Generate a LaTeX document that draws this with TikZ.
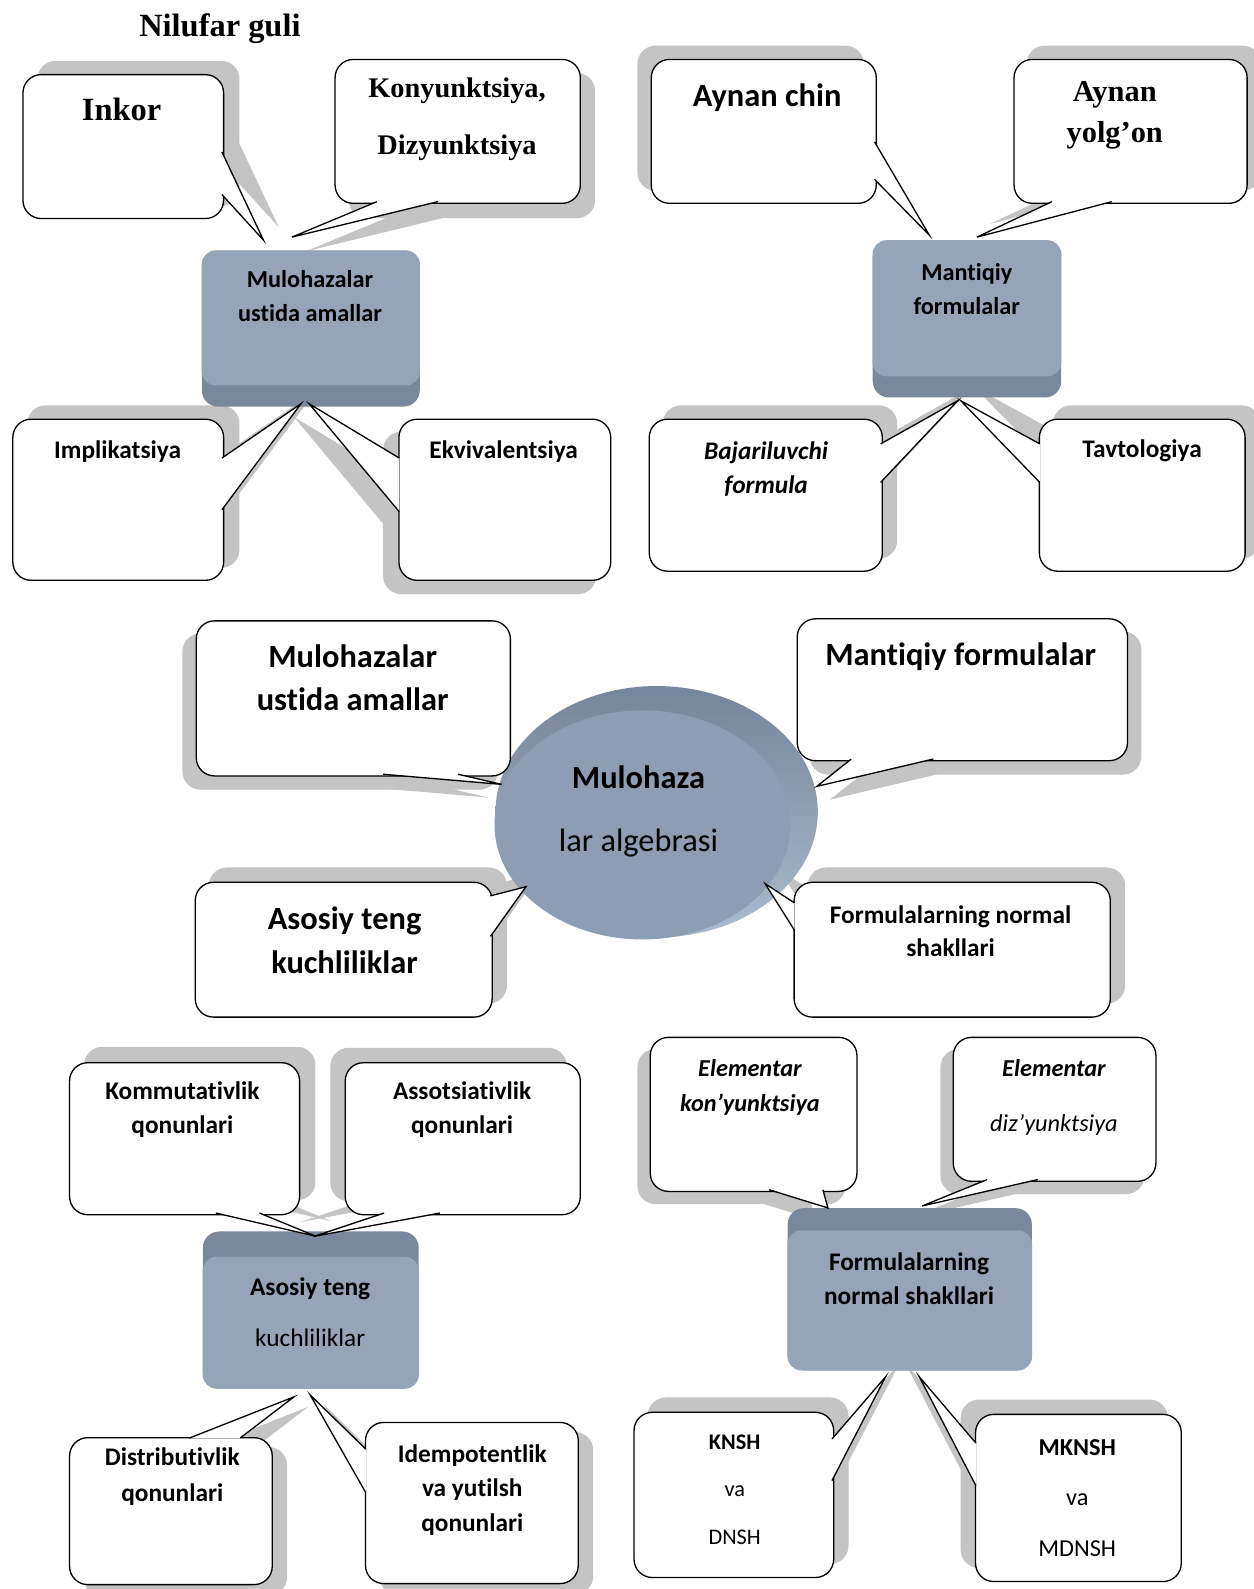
\documentclass[tikz,border=0pt]{standalone}
\usepackage{fontspec}
\setmainfont{Carlito}[RawFeature={-liga;-clig;-calt;-dlig;-hlig}]
\newfontfamily\tnr{Liberation Serif}
\usetikzlibrary{shapes.geometric}
\pgfdeclarelayer{background}
\pgfsetlayers{background,main}

\definecolor{shadowgray}{RGB}{196,196,196}
\definecolor{keyface}{RGB}{150,164,185}
\definecolor{keydark}{RGB}{122,136,157}
\definecolor{rimdark}{RGB}{118,133,155}
\definecolor{rimlight}{RGB}{172,186,205}
\definecolor{ovalface}{RGB}{140,157,180}

\newcommand{\fs}[2]{\fontsize{#1}{#2}\selectfont}
% gray shadow of a bubble, shifted by #2
\newcommand{\bubshadow}[2]{%
  \begin{pgfonlayer}{background}
    \fill[shadowgray,rounded corners=18pt] ([shift={#2}]#1.north west) rectangle ([shift={#2}]#1.south east);
  \end{pgfonlayer}}
% pointer of a bubble: base #1,#2, tip #3, shadow shift #4
\newcommand{\bubtail}[4]{%
  \begin{pgfonlayer}{background}
    \fill[shadowgray] ([shift={#4}]#1) -- ([shift={#4}]#3) -- ([shift={#4}]#2) -- cycle;
  \end{pgfonlayer}
  \fill[white] (#1) -- (#3) -- (#2) -- cycle;
  \draw[tailline] (#1) -- (#3) -- (#2);}

\begin{document}
\begin{tikzpicture}[x=1pt,y=-1pt,
  bubble/.style={draw=black,line width=1.3pt,fill=white,rounded corners=18pt,anchor=north west,inner sep=0pt},
  keybox/.style={fill=keydark,rounded corners=16pt,anchor=north west,inner sep=0pt},
  tailline/.style={line width=1.3pt,line join=miter},
  txt/.style={align=center,inner sep=0pt}]
\begin{pgfonlayer}{background}
\fill[white] (0,0) rectangle (1237,1568);
\end{pgfonlayer}
\useasboundingbox (0,0) rectangle (1237,1568);

% gray keys
\node[keybox,minimum width=215pt,minimum height=154pt] (mulop) at (199,247) {};
\fill[keyface,rounded corners=14pt] (mulop.north west) rectangle ([yshift=21pt]mulop.south east);
\node[keybox,minimum width=186pt,minimum height=155pt] (mantbox) at (861,237) {};
\fill[keyface,rounded corners=14pt] (mantbox.north west) rectangle ([yshift=21pt]mantbox.south east);
\node[keybox,minimum width=213pt,minimum height=155pt] (asbox) at (200,1215) {};
\fill[keyface,rounded corners=14pt] ([yshift=-25pt]asbox.north west) rectangle (asbox.south east);
\node[keybox,minimum width=241pt,minimum height=160pt] (formbox) at (777,1192) {};
\fill[keyface,rounded corners=14pt] ([yshift=-22pt]formbox.north west) rectangle (formbox.south east);

% central oval
\node[ellipse,minimum width=318pt,minimum height=248pt,inner sep=0pt,top color=rimdark,bottom color=rimlight] (alg) at (648,801) {};
\fill[ovalface] ([shift={(-14,13)}]alg.center) ellipse [x radius=146pt,y radius=113pt];

% bubbles
\node[bubble,minimum width=198pt,minimum height=142pt] (inkor) at (22,73) {};
\node[bubble,minimum width=242pt,minimum height=142pt] (konyu) at (330,58) {};
\node[bubble,minimum width=208pt,minimum height=159pt] (implik) at (12,413) {};
\node[bubble,minimum width=209pt,minimum height=159pt] (ekviv) at (393,413) {};
\node[bubble,minimum width=222pt,minimum height=142pt] (aynchin) at (642,58) {};
\node[bubble,minimum width=230pt,minimum height=142pt] (aynyol) at (1000,58) {};
\node[bubble,minimum width=230pt,minimum height=150pt] (bajar) at (640,413) {};
\node[bubble,minimum width=203pt,minimum height=150pt] (tavto) at (1025,413) {};
\node[bubble,minimum width=310pt,minimum height=153pt] (cmul) at (193,612) {};
\node[bubble,minimum width=326pt,minimum height=140pt] (cmant) at (786,610) {};
\node[bubble,minimum width=293pt,minimum height=133pt] (casos) at (192,870) {};
\node[bubble,minimum width=312pt,minimum height=133pt] (cform) at (783,870) {};
\node[bubble,minimum width=227pt,minimum height=150pt] (komm) at (68,1048) {};
\node[bubble,minimum width=232pt,minimum height=150pt] (assots) at (340,1048) {};
\node[bubble,minimum width=200pt,minimum height=145pt] (distr) at (68,1418) {};
\node[bubble,minimum width=210pt,minimum height=159pt] (idemp) at (360,1403) {};
\node[bubble,minimum width=204pt,minimum height=152pt] (elkon) at (641,1023) {};
\node[bubble,minimum width=200pt,minimum height=142pt] (eldiz) at (940,1023) {};
\node[bubble,minimum width=197pt,minimum height=163pt] (knsh) at (625,1393) {};
\node[bubble,minimum width=203pt,minimum height=165pt] (mknsh) at (962,1395) {};

\bubshadow{inkor}{(15,-13)}
\bubshadow{konyu}{(14,14)}
\bubshadow{implik}{(15,-13)}
\bubshadow{ekviv}{(-15,13)}
\bubshadow{aynchin}{(-13,-13)}
\bubshadow{aynyol}{(13,-13)}
\bubshadow{bajar}{(14,-13)}
\bubshadow{tavto}{(14,-13)}
\bubshadow{cmul}{(-13,13)}
\bubshadow{cmant}{(13,13)}
\bubshadow{casos}{(14,-14)}
\bubshadow{cform}{(14,-14)}
\bubshadow{komm}{(15,-15)}
\bubshadow{assots}{(-14,-14)}
\bubshadow{distr}{(14,10)}
\bubshadow{idemp}{(14,10)}
\bubshadow{elkon}{(-12,12)}
\bubshadow{eldiz}{(-12,12)}
\bubshadow{knsh}{(14,-14)}
\bubshadow{mknsh}{(-14,-14)}

% pointer bases and tips
\coordinate (inkor-a) at (219,150);
\coordinate (inkor-b) at (219,192);
\coordinate (inkor-p) at ([shift={(61,-10)}]mulop.north west);
\coordinate (konyu-a) at (372,199);
\coordinate (konyu-b) at (432,199);
\coordinate (konyu-p) at ([shift={(89,-13)}]mulop.north west);
\coordinate (implik-a) at (219,452);
\coordinate (implik-b) at (219,503);
\coordinate (implik-p) at ([shift={(98,-3)}]mulop.south west);
\coordinate (ekviv-a) at (394,452);
\coordinate (ekviv-b) at (394,505);
\coordinate (ekviv-p) at ([shift={(106,-3)}]mulop.south west);
\coordinate (aynchin-a) at (863,140);
\coordinate (aynchin-b) at (863,177);
\coordinate (aynchin-p) at ([shift={(56,-5)}]mantbox.north west);
\coordinate (aynyol-a) at (1038,199);
\coordinate (aynyol-b) at (1097,199);
\coordinate (aynyol-p) at ([shift={(103,-3)}]mantbox.north west);
\coordinate (bajar-a) at (869,438);
\coordinate (bajar-b) at (869,476);
\coordinate (bajar-p) at ([shift={(84,3)}]mantbox.south west);
\coordinate (tavto-a) at (1026,438);
\coordinate (tavto-b) at (1026,476);
\coordinate (tavto-p) at ([shift={(87,3)}]mantbox.south west);
\coordinate (cmul-a) at (378,764);
\coordinate (cmul-b) at (452,764);
\coordinate (cmul-p) at ([shift={(-153,-27)}]alg.center);
\coordinate (cmant-a) at (840,749);
\coordinate (cmant-b) at (921,749);
\coordinate (cmant-p) at ([shift={(158,-25)}]alg.center);
\coordinate (casos-a) at (484,884);
\coordinate (casos-b) at (484,924);
\coordinate (casos-p) at ([shift={(-129,74)}]alg.center);
\coordinate (cform-a) at (784,891);
\coordinate (cform-b) at (784,918);
\coordinate (cform-p) at ([shift={(107,71)}]alg.center);
\coordinate (komm-a) at (213,1197);
\coordinate (komm-b) at (256,1197);
\coordinate (komm-p) at ([shift={(112,5)}]asbox.north west);
\coordinate (assots-a) at (379,1197);
\coordinate (assots-b) at (434,1197);
\coordinate (assots-p) at ([shift={(110,5)}]asbox.north west);
\coordinate (distr-a) at (187,1419);
\coordinate (distr-b) at (237,1419);
\coordinate (distr-p) at ([shift={(90,8)}]asbox.south west);
\coordinate (idemp-a) at (361,1430);
\coordinate (idemp-b) at (361,1473);
\coordinate (idemp-p) at ([shift={(106,6)}]asbox.south west);
\coordinate (elkon-a) at (759,1174);
\coordinate (elkon-b) at (812,1174);
\coordinate (elkon-p) at ([shift={(40,0)}]formbox.north west);
\coordinate (eldiz-a) at (974,1164);
\coordinate (eldiz-b) at (1024,1164);
\coordinate (eldiz-p) at ([shift={(133,-2)}]formbox.north west);
\coordinate (knsh-a) at (821,1420);
\coordinate (knsh-b) at (821,1461);
\coordinate (knsh-p) at ([shift={(97,6)}]formbox.south west);
\coordinate (mknsh-a) at (963,1424);
\coordinate (mknsh-b) at (963,1466);
\coordinate (mknsh-p) at ([shift={(130,6)}]formbox.south west);

\bubtail{inkor-a}{inkor-b}{inkor-p}{(15,-13)}
\bubtail{konyu-a}{konyu-b}{konyu-p}{(14,14)}
\bubtail{implik-a}{implik-b}{implik-p}{(15,-13)}
\bubtail{ekviv-a}{ekviv-b}{ekviv-p}{(-15,13)}
\bubtail{aynchin-a}{aynchin-b}{aynchin-p}{(-13,-13)}
\bubtail{aynyol-a}{aynyol-b}{aynyol-p}{(13,-13)}
\bubtail{bajar-a}{bajar-b}{bajar-p}{(14,-13)}
\bubtail{tavto-a}{tavto-b}{tavto-p}{(14,-13)}
\bubtail{cmul-a}{cmul-b}{cmul-p}{(-13,13)}
\bubtail{cmant-a}{cmant-b}{cmant-p}{(13,13)}
\bubtail{casos-a}{casos-b}{casos-p}{(14,-14)}
\bubtail{cform-a}{cform-b}{cform-p}{(14,-14)}
\bubtail{komm-a}{komm-b}{komm-p}{(15,-15)}
\bubtail{assots-a}{assots-b}{assots-p}{(-14,-14)}
\bubtail{distr-a}{distr-b}{distr-p}{(14,10)}
\bubtail{idemp-a}{idemp-b}{idemp-p}{(14,10)}
\bubtail{elkon-a}{elkon-b}{elkon-p}{(-12,12)}
\bubtail{eldiz-a}{eldiz-b}{eldiz-p}{(-12,12)}
\bubtail{knsh-a}{knsh-b}{knsh-p}{(14,-14)}
\bubtail{mknsh-a}{mknsh-b}{mknsh-p}{(-14,-14)}

% texts
\node[txt,font=\tnr\bfseries\fs{32}{38}] (title) at (217,28) {Nilufar guli};
\node[txt,font=\tnr\bfseries\fs{32}{38}] (inkor-t) at (120,108) {Inkor};
\node[txt,font=\tnr\bfseries\fs{28}{56}] (konyu-t) at (451,118) {Konyunktsiya,\\Dizyunktsiya};
\node[txt,font=\bfseries\fs{25}{34}] (implik-t) at (116,446) {Implikatsiya};
\node[txt,font=\bfseries\fs{25}{34}] (ekviv-t) at (497,446) {Ekvivalentsiya};
\node[txt,font=\bfseries\fs{24}{33}] (mulop-t) at (306,292) {Mulohazalar\\ustida amallar};
\node[txt,font=\bfseries\fs{32}{38}] (aynchin-t) at (757,96) {Aynan chin};
\node[txt,font=\tnr\bfseries\fs{30}{41}] (aynyol-t) at (1100,114) {Aynan\\yolg’on};
\node[txt,font=\bfseries\fs{24}{34}] (mantbox-t) at (954,285) {Mantiqiy\\formulalar};
\node[txt,font=\bfseries\itshape\fs{25}{34}] (bajar-t) at (756,463) {Bajariluvchi\\formula};
\node[txt,font=\bfseries\fs{25}{34}] (tavto-t) at (1127,445) {Tavtologiya};
\node[txt,font=\bfseries\fs{32}{42}] (cmul-t) at (348,669) {Mulohazalar\\ustida amallar};
\node[txt,font=\bfseries\fs{32}{42}] (cmant-t) at (948,648) {Mantiqiy formulalar};
\node[txt,font=\fs{32}{62}] (alg-t) at (630,801) {\textbf{Mulohaza}\\lar algebrasi};
\node[txt,font=\bfseries\fs{32}{43}] (casos-t) at (340,928) {Asosiy teng\\kuchliliklar};
\node[txt,font=\bfseries\fs{25}{33}] (cform-t) at (938,919) {Formulalarning normal\\shakllari};
\node[txt,font=\bfseries\fs{25}{33}] (komm-t) at (180,1095) {Kommutativlik\\qonunlari};
\node[txt,font=\bfseries\fs{25}{33}] (assots-t) at (456,1095) {Assotsiativlik\\qonunlari};
\node[txt,font=\fs{25}{51}] (asbox-t) at (306,1295) {\textbf{Asosiy teng}\\kuchliliklar};
\node[txt,font=\bfseries\fs{25}{35}] (distr-t) at (170,1457) {Distributivlik\\qonunlari};
\node[txt,font=\bfseries\fs{25}{34}] (idemp-t) at (466,1470) {Idempotentlik\\va yutilsh\\qonunlari};
\node[txt,font=\bfseries\itshape\fs{24}{35}] (elkon-t) at (740,1073) {Elementar\\kon’yunktsiya};
\node[txt,font=\itshape\fs{24}{54}] (eldiz-t) at (1040,1083) {\textbf{Elementar}\\diz’yunktsiya};
\node[txt,font=\bfseries\fs{25}{33}] (formbox-t) at (897,1262) {Formulalarning\\normal shakllari};
\node[txt,font=\fs{22}{47}] (knsh-t) at (725,1470) {\textbf{KNSH}\\va\\DNSH};
\node[txt,font=\fs{24}{50}] (mknsh-t) at (1063,1478) {\textbf{MKNSH}\\va\\MDNSH};
\end{tikzpicture}
\end{document}
